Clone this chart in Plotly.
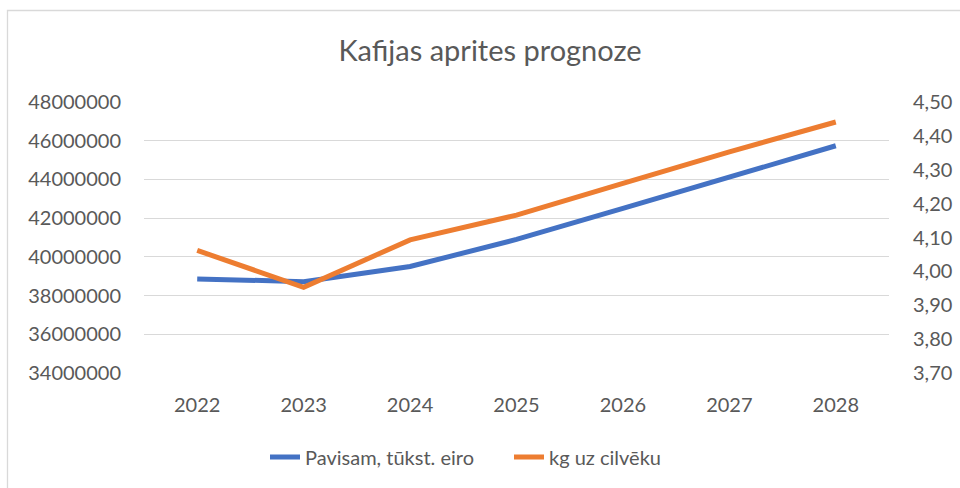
import plotly.graph_objects as go

years = ["2022", "2023", "2024", "2025", "2026", "2027", "2028"]
total_k_eur = [38860000, 38720000, 39500000, 40900000, 42500000, 44140000, 45740000]
kg_per_person = [4.062, 3.953, 4.093, 4.166, 4.260, 4.353, 4.441]

series_names = ["Pavisam, tūkst. eiro", "kg uz cilvēku"]
title_text = "Kafijas aprites prognoze"

FONT = "Lato, Open Sans, sans-serif"
TXT = "#595959"

fig = go.Figure()
fig.add_trace(go.Scatter(
    x=years, y=total_k_eur, name=series_names[0], mode="lines",
    line=dict(color="#4472C4", width=5), yaxis="y"))
fig.add_trace(go.Scatter(
    x=years, y=kg_per_person, name=series_names[1], mode="lines",
    line=dict(color="#ED7D31", width=5), yaxis="y2"))

W, H = 960, 488
L, R, T, B = 144, 71, 102, 115
pw, ph = W - L - R, H - T - B

def px(x):
    return (x - L) / pw

def py(y):
    return (H - B - y) / ph

fig.update_layout(
    width=W, height=H,
    margin=dict(l=L, r=R, t=T, b=B, autoexpand=False),
    paper_bgcolor="white", plot_bgcolor="white",
    separators=", ",
    font=dict(family=FONT, color=TXT, size=20),
    title=dict(text=title_text, x=px(490), xref="paper", xanchor="center",
               y=(H - 51) / H, yanchor="middle",
               font=dict(size=29, color=TXT, family=FONT)),
    xaxis=dict(type="category", range=[-0.5, 6.5], showgrid=False,
               showline=False, zeroline=False, ticks="",
               ticklabelstandoff=18, tickfont=dict(size=20, color=TXT)),
    yaxis=dict(range=[34000000, 48000000], dtick=2000000, tickformat="d",
               showgrid=True, gridcolor="#D9D9D9", gridwidth=1.3,
               zeroline=False, showline=False, ticks="",
               ticklabelstandoff=22, tickfont=dict(size=20, color=TXT)),
    yaxis2=dict(range=[3.7, 4.5], dtick=0.1, tickformat=".2f",
                overlaying="y", side="right", showgrid=False,
                zeroline=False, showline=False, ticks="",
                ticklabelstandoff=23, tickfont=dict(size=20, color=TXT)),
    legend=dict(orientation="h", x=px(265), xanchor="left",
                y=py(457), yanchor="middle",
                font=dict(size=20, color=TXT), itemwidth=30,
                entrywidth=199, entrywidthmode="pixels",
                traceorder="normal"),
    shapes=[dict(type="rect", xref="paper", yref="paper",
                 x0=px(7.5), x1=px(975), y0=py(500), y1=py(10.5),
                 line=dict(color="#D9D9D9", width=1.3), layer="below")],
)

fig.write_html("out.html", config={"displayModeBar": False},
               post_script="document.body.style.margin='0';document.body.style.overflow='hidden';")
